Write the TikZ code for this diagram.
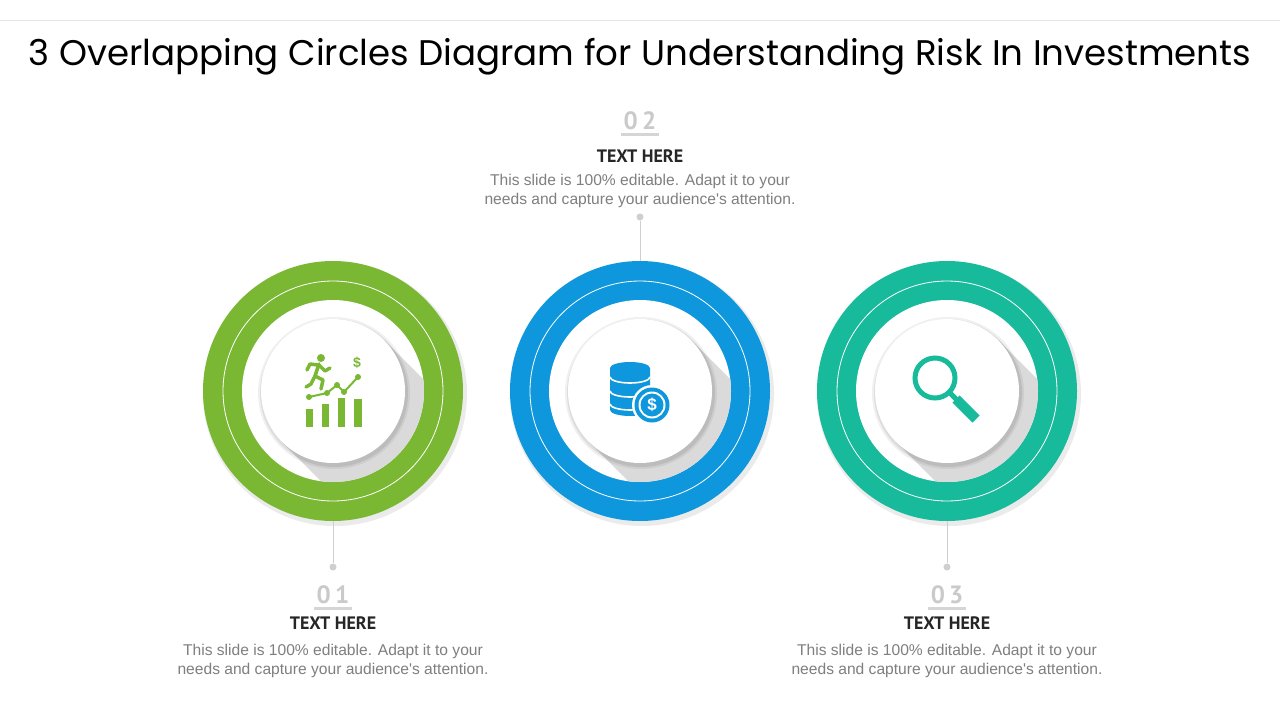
\documentclass[tikz,border=0pt]{standalone}
\usepackage{fontspec}
\setmainfont{Liberation Sans}
\newfontfamily\titlefont{Poppins}
\newfontfamily\headfont{PT Sans}
\usetikzlibrary{positioning}

\definecolor{ringgreen}{HTML}{7AB733}
\definecolor{ringblue}{HTML}{0E97DC}
\definecolor{ringteal}{HTML}{17BA9B}
\definecolor{numgray}{HTML}{CACACA}
\definecolor{stemgray}{HTML}{CFCFCF}
\definecolor{bodygray}{HTML}{7F7F7F}
\definecolor{headblack}{HTML}{262626}
\definecolor{longshadow}{HTML}{DADADA}

\tikzset{
  ring/.style={circle, minimum size=260pt, inner sep=0pt, fill=#1},
  disc/.style={circle, minimum size=144pt, inner sep=0pt, fill=white},
  dot/.style={circle, minimum size=7pt, inner sep=0pt, fill=stemgray},
  stem/.style={draw=stemgray, line width=1pt},
  num/.style={anchor=base, inner sep=0pt, text=numgray, font=\headfont\bfseries\fontsize{25}{28}\selectfont},
  numline/.style={draw=numgray!80, line width=3pt},
  head/.style={anchor=base, inner sep=0pt, text=headblack, font=\headfont\bfseries\fontsize{18}{20}\selectfont},
  body/.style={anchor=north, inner sep=0pt, align=center, text=bodygray, font=\fontsize{15.6}{18.5}\selectfont},
}

\begin{document}
\begin{tikzpicture}[x=1pt, y=-1pt]
    \useasboundingbox (0,0) rectangle (1280,720);
    \fill[white] (0,0) rectangle (1280,720);
    \draw[black!10, line width=1pt] (0,20) -- (1280,20);
    \node[anchor=base, inner sep=0pt, font=\titlefont\fontsize{35.6}{40}\selectfont] (title) at (640,65)
        {3 Overlapping Circles Diagram for Understanding Risk In Investments};

    \foreach \c/\col/\n in {333/ringgreen/G, 640/ringblue/B, 947/ringteal/T} {
        \fill[black, opacity=.08] (\c+2,394) circle (132pt);
        \node[ring=\col] (\n) at (\c,391) {};
        \draw[white, line width=.8pt] (\c,391) circle (110pt);
        \fill[white] (\c,391) circle (91pt);
        \begin{scope}
            \clip (\c,391) circle (91pt);
            \fill[longshadow] (\c+51,340) -- (\c+251,540) -- (\c+149,642) -- (\c-51,442) -- cycle;
        \end{scope}
        \fill[black, opacity=.06] (\c+1,393) circle (76pt);
        \fill[black, opacity=.08] (\c+1,393) circle (74pt);
        \node[disc] (\n c) at (\c,391) {};
    }

    % growth icon
    \fill[ringgreen] (306,409) rectangle (313,427);
    \fill[ringgreen] (322,404) rectangle (329,427);
    \fill[ringgreen] (338,398) rectangle (345,427);
    \fill[ringgreen] (354,399) rectangle (362,427);
    \draw[ringgreen, line width=2pt, line join=round] (309,397) -- (327,393) -- (337,385) -- (344,392) -- (358,377);
    \foreach \p in {(309,397), (327,393), (337,385), (344,392), (358,377)}
        \fill[ringgreen] \p circle (3pt);
    \node[text=ringgreen, font=\bfseries\fontsize{14}{14}\selectfont] (usd) at (357,363) {\$};
    \fill[ringgreen] (321,358) circle (4pt);
    \draw[ringgreen, line width=3.5pt, line cap=round, line join=round]
        (319,364) -- (315,376) -- (323,380) -- (321,389)
        (315,376) -- (311,384) -- (306,387)
        (319,365) -- (325,371) -- (330,368)
        (318,365) -- (310,364) -- (307,370);

    % coins icon
    \fill[ringblue] (610,368) -- (610,410) arc[start angle=180, end angle=360, x radius=20pt, y radius=6pt]
        -- (650,368) arc[start angle=0, end angle=180, x radius=20pt, y radius=6pt] -- cycle;
    \foreach \y in {377,391,404}
        \draw[white, line width=1.6pt] (610,\y) arc[start angle=180, end angle=360, x radius=20pt, y radius=6pt];
    \fill[white] (652,405) circle (20pt);
    \fill[ringblue] (652,405) circle (17.5pt);
    \fill[white] (652,405) circle (13.5pt);
    \fill[ringblue] (652,405) circle (11.5pt);
    \node[text=white, font=\bfseries\fontsize{17}{17}\selectfont] (coin) at (652,405) {\$};

    % magnifier icon
    \draw[ringteal, line width=5pt] (935,378) circle (20pt);
    \draw[ringteal, line width=5pt] (949,392) -- (958,401);
    \draw[ringteal, line width=10pt] (956,399) -- (976,419);

    % connectors
    \node[dot] (d1) at (333,567) {};
    \node[dot] (d2) at (640,217) {};
    \node[dot] (d3) at (947,567) {};
    \draw[stem] (G.south) -- (d1);
    \draw[stem] (d2) -- (B.north);
    \draw[stem] (T.south) -- (d3);

    % text blocks
    \node[num] (n2) at (640,129) {0\,2};
    \draw[numline] (621,134) -- (659,134);
    \node[head] (h2) at (640,162) {TEXT HERE};
    \node[body] (b2) at (640,174) {This slide is 100\% editable. Adapt it to your\\needs and capture your audience\textquotesingle s attention.};

    \node[num] (n1) at (333,603) {0\,1};
    \draw[numline] (314,608) -- (352,608);
    \node[head] (h1) at (333,629) {TEXT HERE};
    \node[body] (b1) at (333,644) {This slide is 100\% editable. Adapt it to your\\needs and capture your audience\textquotesingle s attention.};

    \node[num] (n3) at (947,603) {0\,3};
    \draw[numline] (928,608) -- (966,608);
    \node[head] (h3) at (947,629) {TEXT HERE};
    \node[body] (b3) at (947,644) {This slide is 100\% editable. Adapt it to your\\needs and capture your audience\textquotesingle s attention.};
\end{tikzpicture}
\end{document}
